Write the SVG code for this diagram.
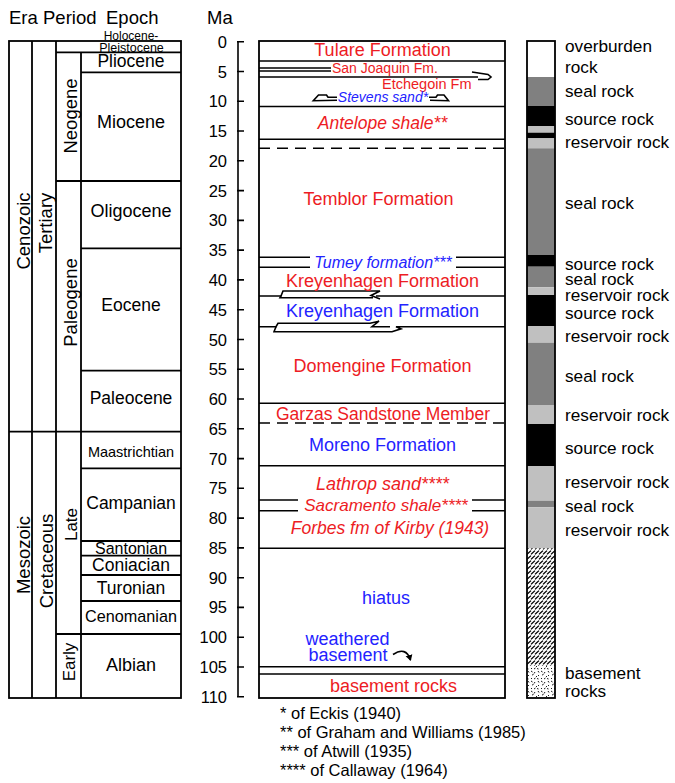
<svg xmlns="http://www.w3.org/2000/svg" width="675" height="783" viewBox="0 0 675 783">
<style>
text { font-family: "Liberation Sans", Arial, sans-serif; fill:#000; }
.ln { stroke:#000; stroke-width:1.8; fill:none; }
.tl { stroke:#000; stroke-width:1.6; fill:none; }
.red { fill:#ed1c24; }
.blue { fill:#2323ff; }
.it { font-style:italic; }
.c { text-anchor:middle; }
.ax { font-size:16.5px; text-anchor:end; }
.ep { font-size:17.5px; text-anchor:middle; }
.rot { font-size:18.5px; text-anchor:middle; }
.fm { font-size:18px; text-anchor:middle; }
.lab { font-size:17.2px; }
.fn { font-size:16.5px; }
.hd { font-size:18.5px; }
</style>
<defs>
<pattern id="hatch" width="4" height="5" patternUnits="userSpaceOnUse">
<rect width="4" height="5" fill="#fff"/>
<path d="M-1,4.4 L3,0.6 M3,4.4 L7,0.6" stroke="#000" stroke-width="1.3"/>
</pattern>
<pattern id="speck" width="10" height="10" patternUnits="userSpaceOnUse">
<rect width="10" height="10" fill="#fff"/>
<path d="M1,1 l1.5,1 M5,2 l-1,1.5 M8,1 l1,1.5 M2,5 l1.5,-0.5 M6,6 l1,1 M9,5 l-1,1 M1,8 l1,1 M4,9 l1.5,-1 M7,8.5 l1.5,0.5" stroke="#000" stroke-width="0.9"/>
</pattern>
<marker id="ah" markerWidth="8" markerHeight="8" refX="5" refY="4" orient="auto" markerUnits="userSpaceOnUse">
<path d="M0,0.5 L6,4 L0,7.5 Z" fill="#000"/>
</marker>
</defs>

<g id="header">
<text class="hd" x="9" y="24">Era</text>
<text class="hd" x="43" y="24">Period</text>
<text class="hd" x="106" y="24">Epoch</text>
<text class="hd" x="207" y="24">Ma</text>
</g>

<g id="timescale">
<rect x="9" y="41" width="172" height="657" class="ln"/>
<path class="ln" d="M32,41 V698 M56,41 V698 M81,52.3 V698"/>
<path class="ln" d="M56,52.3 H181 M81,72.3 H181 M56,181 H181 M81,248.3 H181 M81,370.7 H181 M9,431.7 H181 M81,468.3 H181 M81,541 H181 M81,555.7 H181 M81,575 H181 M81,601 H181 M56,634 H181"/>
<text class="c" x="131" y="39.5" style="font-size:12px">Holocene-</text>
<text class="c" x="131.5" y="51.5" style="font-size:12.5px">Pleistocene</text>
<text class="ep" x="131" y="67">Pliocene</text>
<text class="ep" x="131" y="127.5" style="font-size:18px">Miocene</text>
<text class="ep" x="131" y="217" style="font-size:18px">Oligocene</text>
<text class="ep" x="131" y="311">Eocene</text>
<text class="ep" x="131" y="404">Paleocene</text>
<text class="ep" x="131" y="456.5" style="font-size:14.5px">Maastrichtian</text>
<text class="ep" x="131" y="508.5">Campanian</text>
<text class="ep" x="131" y="553.5" style="font-size:16px">Santonian</text>
<text class="ep" x="131" y="570.5">Coniacian</text>
<text class="ep" x="131" y="594">Turonian</text>
<text class="ep" x="131" y="622" style="font-size:16.2px">Cenomanian</text>
<text class="ep" x="131" y="670.5" style="font-size:18px">Albian</text>
<text class="rot" transform="translate(29.5,231) rotate(-90)">Cenozoic</text>
<text class="rot" transform="translate(52,223) rotate(-90)">Tertiary</text>
<text class="rot" transform="translate(76.5,116) rotate(-90)">Neogene</text>
<text class="rot" transform="translate(76.5,302.5) rotate(-90)">Paleogene</text>
<text class="rot" transform="translate(30,555) rotate(-90)">Mesozoic</text>
<text class="rot" transform="translate(52.5,561) rotate(-90)">Cretaceous</text>
<text class="rot" style="font-size:17px" transform="translate(77,524.5) rotate(-90)">Late</text>
<text class="rot" style="font-size:17px" transform="translate(75,662) rotate(-90)">Early</text>
</g>

<g id="axis">
<path class="tl" d="M238,41.7 V696.8"/>
<path class="tl" d="M237,41.7 H244 M237,71.5 H244 M237,101.3 H244 M237,131 H244 M237,160.8 H244 M237,190.6 H244 M237,220.4 H244 M237,250.1 H244 M237,279.9 H244 M237,309.7 H244 M237,339.5 H244 M237,369.2 H244 M237,399 H244 M237,428.8 H244 M237,458.6 H244 M237,488.3 H244 M237,518.1 H244 M237,547.9 H244 M237,577.7 H244 M237,607.4 H244 M237,637.2 H244 M237,667 H244 M237,696.8 H244"/>
<text class="ax" x="227" y="47.7">0</text>
<text class="ax" x="227" y="77.5">5</text>
<text class="ax" x="227" y="107.3">10</text>
<text class="ax" x="227" y="137">15</text>
<text class="ax" x="227" y="166.8">20</text>
<text class="ax" x="227" y="196.6">25</text>
<text class="ax" x="227" y="226.4">30</text>
<text class="ax" x="227" y="256.1">35</text>
<text class="ax" x="227" y="285.9">40</text>
<text class="ax" x="227" y="315.7">45</text>
<text class="ax" x="227" y="345.5">50</text>
<text class="ax" x="227" y="375.2">55</text>
<text class="ax" x="227" y="405">60</text>
<text class="ax" x="227" y="434.8">65</text>
<text class="ax" x="227" y="464.6">70</text>
<text class="ax" x="227" y="494.3">75</text>
<text class="ax" x="227" y="524.1">80</text>
<text class="ax" x="227" y="553.9">85</text>
<text class="ax" x="227" y="583.7">90</text>
<text class="ax" x="227" y="613.4">95</text>
<text class="ax" x="227" y="643.2">100</text>
<text class="ax" x="227" y="673">105</text>
<text class="ax" x="227" y="702.8">110</text>
</g>

<g id="formations">
<rect x="259" y="41" width="246" height="657" class="ln"/>
<path class="tl" d="M259,61 H505 M259,68 H331 M259,71 H331 M259,77 H478 M259,106.5 H505 M259,139.3 H505 M259,257.3 H310 M456,257.3 H505 M259,267.3 H310 M456,267.3 H505 M259,403.3 H505 M259,465.7 H505 M259,500 H298 M472,500 H505 M259,510.7 H298 M472,510.7 H505 M259,548.3 H505 M259,666.7 H505 M259,674 H505"/>
<path class="tl" stroke-dasharray="11,7" d="M259,148.3 H505 M259,423 H505"/>
<path class="tl" d="M472,72 L488,74.5 L491,77 L488,79.5 L478,79.5"/>
<path class="tl" d="M337,97.3 L328,97.3 L326.5,95 L318.5,95 L313.3,100.7 L337,100.3"/>
<path class="tl" d="M429,97.3 L436,97.3 L437.5,95 L444,95 L448.5,100.7 L430,100.3"/>
<path class="tl" d="M259,296 H281 L283,291 H380 L371,295.5 L380,299"/>
<path class="tl" d="M281,296 L280,297.8 H373"/>
<path class="tl" d="M376,296 H505"/>
<path class="tl" d="M259,326.7 H276 L278,323.3 H370 L379,321.2 L372,326.7 H390"/>
<path class="tl" d="M276,326.7 L274,331.7 H392 L401,328.8 L396,326.7 H505"/>
<text class="fm red" x="382.5" y="56">Tulare Formation</text>
<text class="red" x="332" y="72.5" style="font-size:14px">San Joaquin Fm.</text>
<text class="red" x="382" y="88.5" style="font-size:14.5px">Etchegoin Fm</text>
<text class="blue it c" x="383" y="101.5" style="font-size:14px">Stevens sand*</text>
<text class="fm red it" x="382.5" y="128.5" style="font-size:17.5px">Antelope shale**</text>
<text class="fm red" x="378.5" y="204.5">Temblor Formation</text>
<text class="fm blue it" x="383" y="268" style="font-size:16px">Tumey formation***</text>
<text class="fm red" x="382.5" y="286.5">Kreyenhagen Formation</text>
<text class="fm blue" x="382.5" y="316.5">Kreyenhagen Formation</text>
<text class="fm red" x="382.5" y="371.5">Domengine Formation</text>
<text class="fm red" x="383" y="420" style="font-size:17.5px">Garzas Sandstone Member</text>
<text class="fm blue" x="382.5" y="450.5">Moreno Formation</text>
<text class="fm red it" x="382.5" y="490">Lathrop sand****</text>
<text class="fm red it" x="386" y="510.5" style="font-size:17px">Sacramento shale****</text>
<text class="fm red it" x="390" y="533.5" style="font-size:17.5px">Forbes fm of Kirby (1943)</text>
<text class="fm blue" x="386" y="604">hiatus</text>
<text class="fm blue" x="347.5" y="644.5">weathered</text>
<text class="fm blue" x="348" y="661">basement</text>
<text class="fm red" x="393.5" y="692">basement rocks</text>
</g>

<g id="connectors">
<path class="tl" d="M393,654.5 Q406,646 410.5,660" marker-end="url(#ah)"/>
</g>

<g id="lithology">
<rect x="527" y="41" width="28" height="36" fill="#fff"/>
<rect x="527" y="77" width="28" height="29" fill="#808080"/>
<rect x="527" y="106" width="28" height="20" fill="#000"/>
<rect x="527" y="126" width="28" height="6.7" fill="#c0c0c0"/>
<rect x="527" y="132.7" width="28" height="5.6" fill="#000"/>
<rect x="527" y="138.3" width="28" height="10" fill="#c0c0c0"/>
<rect x="527" y="148.3" width="28" height="106.7" fill="#808080"/>
<rect x="527" y="255" width="28" height="11.7" fill="#000"/>
<rect x="527" y="266.7" width="28" height="20.6" fill="#808080"/>
<rect x="527" y="287.3" width="28" height="7.7" fill="#c0c0c0"/>
<rect x="527" y="295" width="28" height="31" fill="#000"/>
<rect x="527" y="326" width="28" height="16.7" fill="#c0c0c0"/>
<rect x="527" y="342.7" width="28" height="62.3" fill="#808080"/>
<rect x="527" y="405" width="28" height="19" fill="#c0c0c0"/>
<rect x="527" y="424" width="28" height="42" fill="#000"/>
<rect x="527" y="466" width="28" height="34.7" fill="#c0c0c0"/>
<rect x="527" y="500.7" width="28" height="6.6" fill="#808080"/>
<rect x="527" y="507.3" width="28" height="41" fill="#c0c0c0"/>
<rect x="527" y="548.3" width="28" height="117.7" fill="url(#hatch)"/>
<rect x="527" y="666" width="28" height="32" fill="url(#speck)"/>
<rect x="527" y="41" width="28" height="657" class="ln"/>
</g>

<g id="lithology-labels">
<text class="lab" x="565" y="52">overburden</text>
<text class="lab" x="565" y="73">rock</text>
<text class="lab" x="565" y="96.5">seal rock</text>
<text class="lab" x="565" y="124.5">source rock</text>
<text class="lab" x="565" y="147.5">reservoir rock</text>
<text class="lab" x="565" y="208.5">seal rock</text>
<text class="lab" x="565" y="269.5">source rock</text>
<text class="lab" x="565" y="285">seal rock</text>
<text class="lab" x="565" y="301">reservoir rock</text>
<text class="lab" x="565" y="318.5">source rock</text>
<text class="lab" x="565" y="341.5">reservoir rock</text>
<text class="lab" x="565" y="381.5">seal rock</text>
<text class="lab" x="565" y="420.5">reservoir rock</text>
<text class="lab" x="565" y="453.5">source rock</text>
<text class="lab" x="565" y="487.5">reservoir rock</text>
<text class="lab" x="565" y="511.5">seal rock</text>
<text class="lab" x="565" y="535.5">reservoir rock</text>
<text class="lab" x="565" y="679">basement</text>
<text class="lab" x="565" y="697">rocks</text>
</g>

<g id="footnotes">
<text class="fn" x="280" y="719">* of Eckis (1940)</text>
<text class="fn" x="280" y="738">** of Graham and Williams (1985)</text>
<text class="fn" x="280" y="757">*** of Atwill (1935)</text>
<text class="fn" x="280" y="776">**** of Callaway (1964)</text>
</g>
</svg>
